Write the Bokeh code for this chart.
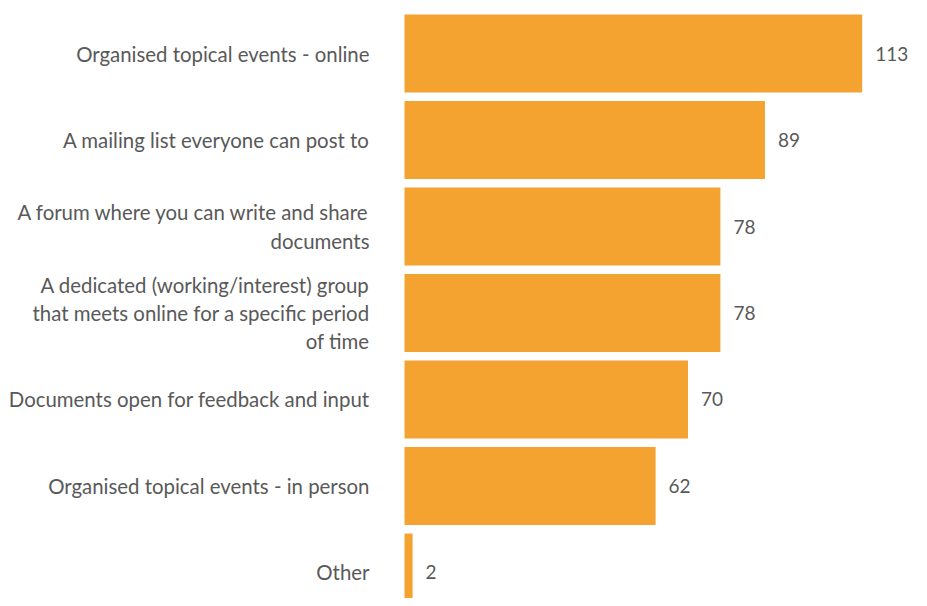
from bokeh.plotting import figure
from bokeh.models import Range1d, ColumnDataSource
from bokeh.core.properties import value
from bokeh.embed import file_html
from bokeh.resources import INLINE

categories = [
    "Organised topical events - online",
    "A mailing list everyone can post to",
    "A forum where you can write and share\ndocuments",
    "A dedicated (working/interest) group\nthat meets online for a specific period\nof time",
    "Documents open for feedback and input",
    "Organised topical events - in person",
    "Other",
]
counts = [113, 89, 78, 78, 70, 62, 2]

pos = list(range(len(categories)))
src = ColumnDataSource(dict(y=pos, cat=categories, v=counts,
                            lab=[str(c) for c in counts], zero=[0] * len(counts)))

p = figure(width=919, height=598, output_backend="svg", toolbar_location=None,
           x_range=Range1d(-99.75, 127.16), y_range=Range1d(6.301, -0.613),
           min_border=0, min_border_left=0, min_border_right=0,
           min_border_top=0, min_border_bottom=0)
p.axis.visible = False
p.grid.visible = False
p.outline_line_color = None
p.background_fill_color = "white"
p.border_fill_color = "white"

p.hbar(y="y", right="v", left=0, height=0.9, source=src,
       fill_color="#F4A230", line_color=None)

p.text(x="zero", y="y", text="cat", source=src, x_offset=-35,
       text_align="right", text_baseline="middle",
       text_font=value("Lato"), text_font_size="20.4px", text_color="#595959",
       text_line_height=1.17)

p.text(x="v", y="y", text="lab", source=src, x_offset=13,
       text_align="left", text_baseline="middle",
       text_font=value("Lato"), text_font_size="19px", text_color="#595959")

open("out.html", "w").write(file_html(p, INLINE))
